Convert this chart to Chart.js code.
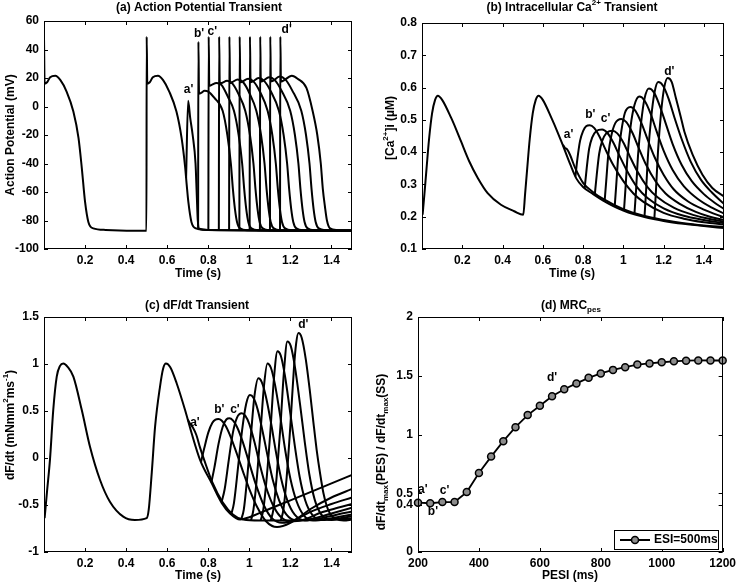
<!DOCTYPE html>
<html><head><meta charset="utf-8">
<script src="https://cdn.jsdelivr.net/npm/chart.js@4.4.0/dist/chart.umd.min.js"></script>
<style>html,body{margin:0;padding:0;background:#fff;width:740px;height:584px;overflow:hidden}canvas{position:absolute;left:0;top:0}</style>
</head><body>
<canvas id="cA" width="740" height="584"></canvas>
<canvas id="cB" width="740" height="584"></canvas>
<canvas id="cC" width="740" height="584"></canvas>
<canvas id="cD" width="740" height="584"></canvas>
<script>
// ---------- tick labels ----------
const timeTicks = [0.2, 0.4, 0.6, 0.8, 1, 1.2, 1.4];
const apTicks = [-100, -80, -60, -40, -20, 0, 20, 40, 60];
const caTicks = [0.1, 0.2, 0.3, 0.4, 0.5, 0.6, 0.7, 0.8];
const dfTicks = [-1, -0.5, 0, 0.5, 1, 1.5];
const pesiTicks = [200, 400, 600, 800, 1000, 1200];
const mrcTicks = [0, 0.4, 0.5, 1, 1.5, 2];

// ---------- (a) action potential, [time s, mV] ----------
const apSS = [[0,49],[0.003,16],[0.015,17],[0.03,20.5],[0.055,21.5],[0.08,18.5],[0.11,10.5],[0.143,-3.5],[0.168,-22],[0.184,-43],[0.2,-67],[0.216,-81],[0.24,-85.5],[0.3,-86.6],[0.499,-87.2],[0.5,49],[0.503,16],[0.515,17],[0.53,20.5],[0.555,21.5],[0.58,18.5],[0.61,10.5],[0.645,-3.5],[0.67,-22],[0.687,-42],[0.695,-55],[0.703,-67],[0.718,-81],[0.74,-85.5],[0.8,-86.6],[1.5,-87.2]];
const apA = [[0.692,-50],[0.702,4],[0.712,-8],[0.724,-20],[0.738,-40],[0.744,-62],[0.749,-80],[0.756,-85.8],[0.8,-86.7],[1.5,-87.2]];
const apB = [[0.7505,-86],[0.752,45.5],[0.755,9],[0.765,9.5],[0.782,11],[0.8,10.5],[0.83,6],[0.87,-3],[0.893,-20],[0.91,-40],[0.92,-58],[0.93,-72],[0.94,-81],[0.955,-85.5],[0.99,-86.8],[1.5,-87.2]];
const apC = [[0.8005,-86.6],[0.802,49],[0.805,14.5],[0.815,15],[0.84,16.5],[0.865,15],[0.895,7],[0.925,-3],[0.948,-20],[0.965,-40],[0.975,-58],[0.985,-72],[0.995,-81],[1.01,-85.5],[1.045,-86.8],[1.5,-87.2]];
const ap3 = [[0.8515,-86.8],[0.853,49],[0.856,16],[0.866,16.5],[0.892,18],[0.918,16],[0.948,8.5],[0.98,-3],[1.003,-20],[1.02,-40],[1.03,-58],[1.04,-72],[1.05,-81],[1.065,-85.5],[1.1,-86.8],[1.5,-87.2]];
const ap4 = [[0.9015,-86.8],[0.903,49],[0.906,16.5],[0.916,17],[0.943,19],[0.97,17],[1.0,9.5],[1.034,-3],[1.057,-20],[1.074,-40],[1.084,-58],[1.094,-72],[1.104,-81],[1.119,-85.5],[1.154,-86.8],[1.5,-87.2]];
const ap5 = [[0.9515,-86.8],[0.953,49],[0.956,17],[0.966,17.5],[0.994,19.5],[1.021,17.5],[1.053,10],[1.089,-3],[1.112,-20],[1.129,-40],[1.139,-58],[1.149,-72],[1.159,-81],[1.174,-85.5],[1.209,-86.8],[1.5,-87.2]];
const ap6 = [[1.0015,-86.8],[1.003,49],[1.006,17],[1.016,17.5],[1.045,20],[1.072,18],[1.105,10.5],[1.144,-3],[1.167,-20],[1.184,-40],[1.194,-58],[1.204,-72],[1.214,-81],[1.229,-85.5],[1.264,-86.8],[1.5,-87.2]];
const ap7 = [[1.0515,-86.8],[1.053,49],[1.056,17.5],[1.066,18],[1.096,20.5],[1.124,18.5],[1.157,11],[1.199,-3],[1.222,-20],[1.239,-40],[1.249,-58],[1.259,-72],[1.269,-81],[1.284,-85.5],[1.319,-86.8],[1.5,-87.2]];
const ap8 = [[1.1005,-86.8],[1.102,49],[1.105,17.5],[1.115,18],[1.147,21],[1.175,19],[1.208,11.5],[1.253,-3],[1.276,-20],[1.293,-40],[1.303,-58],[1.313,-72],[1.323,-81],[1.338,-85.5],[1.373,-86.8],[1.5,-87.2]];
const apD = [[1.1495,-86.8],[1.151,49],[1.154,17.5],[1.164,18],[1.207,21.5],[1.235,19.5],[1.278,13],[1.308,-3],[1.331,-20],[1.348,-40],[1.358,-58],[1.368,-70],[1.378,-80],[1.393,-85.5],[1.428,-86.8],[1.5,-87.2]];

// ---------- (b) intracellular Ca, [time s, uM] ----------
const caSS = [[0.003,0.206],[0.012,0.27],[0.022,0.345],[0.035,0.44],[0.05,0.52],[0.065,0.562],[0.079,0.575],[0.1,0.562],[0.145,0.506],[0.17,0.47],[0.194,0.433],[0.235,0.371],[0.277,0.32],[0.326,0.273],[0.392,0.237],[0.458,0.217],[0.503,0.206],[0.512,0.27],[0.522,0.345],[0.535,0.44],[0.55,0.52],[0.565,0.562],[0.579,0.575],[0.6,0.562],[0.645,0.503],[0.67,0.467],[0.694,0.43],[0.737,0.361],[0.767,0.318],[0.8,0.292],[0.85,0.27],[0.9,0.25],[0.95,0.233],[1.0,0.219],[1.05,0.208],[1.1,0.2],[1.15,0.193],[1.2,0.187],[1.3,0.178],[1.4,0.171],[1.5,0.165]];
const caA = [[0.7,0.423],[0.71,0.413],[0.72,0.409],[0.735,0.392],[0.76,0.352],[0.8,0.305],[0.85,0.276],[0.9,0.255],[1.0,0.223],[1.1,0.203],[1.2,0.19],[1.3,0.18],[1.4,0.173],[1.5,0.168]];
const caB = [[0.762,0.325],[0.772,0.38],[0.785,0.435],[0.8,0.465],[0.815,0.48],[0.833,0.483],[0.855,0.475],[0.88,0.45],[0.91,0.41],[0.95,0.36],[1.0,0.31],[1.05,0.272],[1.1,0.246],[1.2,0.212],[1.3,0.194],[1.4,0.183],[1.5,0.176]];
const caC = [[0.808,0.289],[0.818,0.35],[0.83,0.41],[0.845,0.445],[0.865,0.465],[0.895,0.47],[0.92,0.46],[0.95,0.43],[0.98,0.39],[1.02,0.34],[1.07,0.29],[1.12,0.258],[1.2,0.226],[1.3,0.203],[1.4,0.19],[1.5,0.18]];
const ca3 = [[0.858,0.267],[0.868,0.33],[0.88,0.395],[0.895,0.435],[0.915,0.458],[0.945,0.466],[0.97,0.458],[1.0,0.43],[1.03,0.39],[1.07,0.34],[1.12,0.292],[1.17,0.26],[1.25,0.228],[1.35,0.205],[1.43,0.193],[1.5,0.185]];
const ca4 = [[0.907,0.248],[0.915,0.31],[0.925,0.39],[0.94,0.45],[0.96,0.49],[0.99,0.503],[1.015,0.493],[1.045,0.46],[1.075,0.415],[1.11,0.365],[1.16,0.31],[1.21,0.272],[1.28,0.24],[1.36,0.215],[1.43,0.2],[1.5,0.19]];
const ca5 = [[0.957,0.231],[0.965,0.3],[0.975,0.39],[0.99,0.465],[1.008,0.522],[1.035,0.54],[1.06,0.528],[1.09,0.49],[1.12,0.44],[1.155,0.385],[1.2,0.33],[1.25,0.285],[1.32,0.248],[1.4,0.222],[1.5,0.198]];
const ca6 = [[1.003,0.218],[1.011,0.29],[1.021,0.39],[1.036,0.48],[1.055,0.545],[1.08,0.572],[1.105,0.56],[1.135,0.52],[1.165,0.465],[1.2,0.405],[1.245,0.345],[1.3,0.295],[1.37,0.255],[1.44,0.228],[1.5,0.21]];
const ca7 = [[1.055,0.207],[1.063,0.28],[1.073,0.39],[1.088,0.49],[1.105,0.565],[1.127,0.597],[1.152,0.585],[1.18,0.545],[1.21,0.49],[1.245,0.425],[1.29,0.36],[1.34,0.31],[1.4,0.27],[1.45,0.245],[1.5,0.224]];
const ca8 = [[1.105,0.199],[1.113,0.28],[1.123,0.395],[1.138,0.505],[1.155,0.585],[1.173,0.617],[1.198,0.605],[1.225,0.565],[1.255,0.505],[1.29,0.44],[1.335,0.37],[1.385,0.315],[1.44,0.275],[1.5,0.24]];
const caD = [[1.154,0.193],[1.162,0.28],[1.172,0.4],[1.187,0.52],[1.203,0.6],[1.22,0.63],[1.24,0.618],[1.262,0.565],[1.285,0.51],[1.303,0.464],[1.344,0.392],[1.393,0.33],[1.442,0.289],[1.5,0.263]];

// ---------- (c) dF/dt, [time s, mN mm-2 ms-1] ----------
const dfSS = [[0.003,-0.64],[0.015,-0.35],[0.029,-0.02],[0.045,0.51],[0.062,0.865],[0.078,0.98],[0.094,1.005],[0.115,0.97],[0.143,0.865],[0.184,0.51],[0.224,0.12],[0.273,-0.234],[0.321,-0.465],[0.386,-0.624],[0.443,-0.66],[0.5,-0.64],[0.51,-0.55],[0.525,-0.15],[0.541,0.333],[0.565,0.76],[0.58,0.95],[0.594,1.005],[0.615,0.965],[0.646,0.795],[0.687,0.51],[0.719,0.263],[0.76,-0.02],[0.817,-0.27],[0.866,-0.48],[0.906,-0.59],[0.955,-0.655],[1.0,-0.63],[1.1,-0.54],[1.2,-0.45],[1.3,-0.36],[1.4,-0.27],[1.5,-0.18]];
const dfA = [[0.7,0.41],[0.712,0.365],[0.725,0.325],[0.742,0.245],[0.76,0.11],[0.78,-0.02],[0.82,-0.26],[0.87,-0.47],[0.92,-0.6],[0.97,-0.655],[1.05,-0.665],[1.2,-0.665],[1.35,-0.655],[1.5,-0.645]];
const dfB = [[0.765,-0.04],[0.78,0.1],[0.8,0.27],[0.82,0.375],[0.835,0.408],[0.849,0.415],[0.865,0.4],[0.885,0.34],[0.91,0.22],[0.94,0.04],[0.97,-0.15],[1.0,-0.33],[1.04,-0.53],[1.08,-0.67],[1.135,-0.735],[1.2,-0.69],[1.3,-0.54],[1.4,-0.42],[1.5,-0.33]];
const dfC = [[0.815,-0.26],[0.83,-0.1],[0.85,0.15],[0.87,0.33],[0.888,0.41],[0.903,0.422],[0.92,0.4],[0.94,0.33],[0.965,0.19],[0.995,-0.02],[1.03,-0.27],[1.07,-0.5],[1.11,-0.64],[1.16,-0.69],[1.22,-0.66],[1.3,-0.57],[1.4,-0.49],[1.5,-0.42]];
const df3 = [[0.865,-0.47],[0.88,-0.33],[0.9,-0.02],[0.92,0.27],[0.94,0.43],[0.963,0.475],[0.98,0.45],[1.0,0.36],[1.025,0.17],[1.05,-0.06],[1.08,-0.3],[1.115,-0.5],[1.15,-0.62],[1.2,-0.675],[1.26,-0.66],[1.35,-0.58],[1.43,-0.53],[1.5,-0.49]];
const df4 = [[0.912,-0.6],[0.925,-0.48],[0.945,-0.1],[0.965,0.3],[0.985,0.58],[1.003,0.67],[1.02,0.64],[1.04,0.52],[1.065,0.28],[1.09,0.01],[1.115,-0.24],[1.145,-0.45],[1.18,-0.6],[1.23,-0.665],[1.3,-0.65],[1.4,-0.59],[1.5,-0.53]];
const df5 = [[0.96,-0.655],[0.973,-0.55],[0.99,-0.2],[1.008,0.25],[1.025,0.66],[1.044,0.848],[1.06,0.81],[1.08,0.66],[1.105,0.38],[1.13,0.06],[1.155,-0.22],[1.185,-0.45],[1.22,-0.6],[1.27,-0.665],[1.35,-0.64],[1.43,-0.6],[1.5,-0.57]];
const df6 = [[1.008,-0.665],[1.02,-0.55],[1.037,-0.2],[1.055,0.3],[1.072,0.78],[1.088,1.005],[1.105,0.96],[1.125,0.78],[1.15,0.45],[1.175,0.08],[1.2,-0.22],[1.23,-0.46],[1.265,-0.61],[1.31,-0.665],[1.4,-0.64],[1.5,-0.6]];
const df7 = [[1.055,-0.665],[1.068,-0.55],[1.085,-0.2],[1.103,0.3],[1.12,0.85],[1.137,1.135],[1.153,1.09],[1.173,0.88],[1.198,0.5],[1.222,0.12],[1.245,-0.2],[1.272,-0.45],[1.305,-0.6],[1.35,-0.66],[1.43,-0.645],[1.5,-0.62]];
const df8 = [[1.104,-0.665],[1.117,-0.55],[1.133,-0.2],[1.151,0.32],[1.168,0.9],[1.185,1.24],[1.202,1.19],[1.222,0.97],[1.247,0.57],[1.27,0.17],[1.292,-0.17],[1.318,-0.44],[1.35,-0.6],[1.4,-0.66],[1.46,-0.65],[1.5,-0.64]];
const dfD = [[1.153,-0.665],[1.166,-0.55],[1.182,-0.2],[1.2,0.35],[1.217,0.95],[1.228,1.22],[1.239,1.33],[1.255,1.28],[1.275,1.05],[1.296,0.69],[1.312,0.38],[1.328,0.085],[1.345,-0.17],[1.361,-0.375],[1.377,-0.51],[1.393,-0.59],[1.42,-0.645],[1.46,-0.665],[1.5,-0.655]];

// ---------- (d) MRC ----------
const pesi = [200,240,280,320,360,400,440,480,520,560,600,640,680,720,760,800,840,880,920,960,1000,1040,1080,1120,1160,1200];
const mrc = [0.42,0.415,0.425,0.425,0.51,0.672,0.812,0.943,1.062,1.165,1.245,1.325,1.385,1.435,1.482,1.52,1.55,1.573,1.595,1.605,1.615,1.623,1.628,1.63,1.63,1.63];

// ---------- point labels [text, x, y] in data units ----------
const labA = [["a'",0.704,12],["b'",0.755,51.4],["c'",0.82,52.5],["d'",1.182,53.7]];
const labB = [["a'",0.728,0.454],["b'",0.836,0.516],["c'",0.912,0.504],["d'",1.228,0.65]];
const labC = [["a'",0.735,0.376],["b'",0.854,0.51],["c'",0.93,0.51],["d'",1.263,1.415]];
const labD = [["a'",216,0.528],["b'",249,0.345],["c'",287,0.523],["d'",640,1.48]];

const FONT = "'Liberation Sans', Arial, Helvetica, sans-serif";
const F12 = "bold 12px " + FONT, F8 = "bold 8px " + FONT;

function pts(a){ return a.map(p => ({x:p[0], y:p[1]})); }
function lineDs(a){ return {data:pts(a), showLine:true, borderColor:'#000', borderWidth:2, pointRadius:0, cubicInterpolationMode:'monotone', fill:false}; }

function drawRich(ctx, segs, cx, cy, rot){
  let w = 0;
  segs.forEach(s => { ctx.font = s[1] ? F8 : F12; w += ctx.measureText(s[0]).width; });
  ctx.save(); ctx.translate(cx, cy); if (rot) ctx.rotate(-Math.PI/2);
  ctx.textBaseline = 'middle'; ctx.textAlign = 'left'; ctx.fillStyle = '#000';
  let x = -w/2;
  segs.forEach(s => { ctx.font = s[1] ? F8 : F12; const dy = s[1] === 1 ? -5 : (s[1] === -1 ? 4 : 0); ctx.fillText(s[0], x, dy); x += ctx.measureText(s[0]).width; });
  ctx.restore();
}

const deco = {
  id: 'deco',
  afterDatasetsDraw(chart, args, o){
    const ctx = chart.ctx, a = chart.chartArea, xs = chart.scales.x, ys = chart.scales.y, TL = 4;
    ctx.save();
    ctx.strokeStyle = '#000'; ctx.lineWidth = 1;
    ctx.strokeRect(Math.round(a.left)+0.5, Math.round(a.top)+0.5, Math.round(a.right-a.left)-1, Math.round(a.bottom-a.top)-1);
    ctx.beginPath();
    xs.ticks.forEach(t => { const p = Math.round(xs.getPixelForValue(t.value))+0.5; ctx.moveTo(p, a.bottom); ctx.lineTo(p, a.bottom-TL); ctx.moveTo(p, a.top); ctx.lineTo(p, a.top+TL); });
    ys.ticks.forEach(t => { const p = Math.round(ys.getPixelForValue(t.value))+0.5; ctx.moveTo(a.left, p); ctx.lineTo(a.left+TL, p); ctx.moveTo(a.right, p); ctx.lineTo(a.right-TL, p); });
    ctx.stroke();
    ctx.font = F12; ctx.fillStyle = '#000'; ctx.textAlign = 'center'; ctx.textBaseline = 'middle';
    o.labels.forEach(l => ctx.fillText(l[0], xs.getPixelForValue(l[1]), ys.getPixelForValue(l[2])));
    drawRich(ctx, o.title[0], o.title[1], o.title[2], false);
    drawRich(ctx, o.xtitle[0], o.xtitle[1], o.xtitle[2], false);
    drawRich(ctx, o.ytitle[0], o.ytitle[1], o.ytitle[2], true);
    if (o.legend) {
      const L = o.legend;
      ctx.fillStyle = '#fff'; ctx.fillRect(L.x, L.y, L.w, L.h);
      ctx.strokeStyle = '#000'; ctx.lineWidth = 1; ctx.strokeRect(L.x+0.5, L.y+0.5, L.w, L.h);
      const cy = L.y + L.h/2 + 0.5;
      ctx.lineWidth = 2; ctx.beginPath(); ctx.moveTo(L.x+6, cy); ctx.lineTo(L.x+36, cy); ctx.stroke();
      ctx.beginPath(); ctx.arc(L.x+21, cy, 3.5, 0, Math.PI*2); ctx.fillStyle = '#8c8c8c'; ctx.fill(); ctx.lineWidth = 1.5; ctx.stroke();
      ctx.fillStyle = '#000'; ctx.font = F12; ctx.textAlign = 'left'; ctx.fillText(L.text, L.x+40, cy);
    }
    ctx.restore();
  }
};

function panel(id, r, xr, yr, xt, yt, datasets, deco_opts){
  const YW = 40, XH = 20;
  const tickFont = {family: FONT, size: 12, weight: 'bold'};
  return new Chart(document.getElementById(id), {
    type: 'scatter',
    data: {datasets},
    options: {
      responsive: false, animation: false, events: [],
      layout: {padding: {left: r.l - YW, top: r.t, right: 740 - r.r, bottom: 584 - r.b - XH}},
      plugins: {legend: {display: false}, tooltip: {enabled: false}, deco: deco_opts},
      scales: {
        x: {type: 'linear', min: xr[0], max: xr[1], grid: {display: false, drawTicks: false}, border: {display: false},
            afterBuildTicks: s => { s.ticks = xt.map(v => ({value: v})); },
            afterFit: s => { s.height = XH; },
            ticks: {autoSkip: false, maxRotation: 0, padding: 4, color: '#000', font: tickFont, callback: v => String(v)}},
        y: {type: 'linear', min: yr[0], max: yr[1], grid: {display: false, drawTicks: false}, border: {display: false},
            afterBuildTicks: s => { s.ticks = yt.map(v => ({value: v})); },
            afterFit: s => { s.width = YW; },
            ticks: {autoSkip: false, padding: 5, color: '#000', font: tickFont, callback: v => String(v)}}
      }
    },
    plugins: [deco]
  });
}

panel('cA', {l:44, r:352, t:21, b:249}, [0, 1.5], [-100, 60], timeTicks, apTicks,
  [apSS, apA, apB, apC, ap3, ap4, ap5, ap6, ap7, ap8, apD].map(lineDs),
  {labels: labA, title: [[["(a) Action Potential Transient",0]], 199, 8],
   xtitle: [[["Time (s)",0]], 198, 274], ytitle: [[["Action Potential (mV)",0]], 11, 135]});

panel('cB', {l:422, r:724, t:23, b:249}, [0, 1.5], [0.1, 0.8], timeTicks, caTicks,
  [caSS, caA, caB, caC, ca3, ca4, ca5, ca6, ca7, ca8, caD].map(lineDs),
  {labels: labB, title: [[["(b) Intracellular Ca",0],["2+",1],[" Transient",0]], 572, 8],
   xtitle: [[["Time (s)",0]], 572, 274], ytitle: [[["[Ca",0],["2+",1],["]i (\u00b5M)",0]], 391, 128]});

panel('cC', {l:44, r:352, t:317, b:552}, [0, 1.5], [-1, 1.5], timeTicks, dfTicks,
  [dfSS, dfA, dfB, dfC, df3, df4, df5, df6, df7, df8, dfD].map(lineDs),
  {labels: labC, title: [[["(c) dF/dt Transient",0]], 197, 306],
   xtitle: [[["Time (s)",0]], 198, 576], ytitle: [[["dF/dt (mNmm",0],["2",1],["ms",0],["-1",1],[")",0]], 11, 425]});

panel('cD', {l:418, r:723, t:317, b:552}, [200, 1200], [0, 2], pesiTicks, mrcTicks,
  [{data: pesi.map((p, i) => ({x: p, y: mrc[i]})), showLine: true, borderColor: '#000', borderWidth: 1.8,
    pointRadius: 3.5, pointBorderWidth: 1.5, pointBorderColor: '#000', pointBackgroundColor: '#8c8c8c', clip: false, fill: false}],
  {labels: labD, title: [[["(d) MRC",0],["pes",-1]], 571, 306],
   xtitle: [[["PESI (ms)",0]], 570, 576],
   ytitle: [[["dF/dt",0],["max",-1],["(PES) / dF/dt",0],["max",-1],["(SS)",0]], 382, 452],
   legend: {x: 614, y: 530, w: 104, h: 19, text: "ESI=500ms"}});
</script>
</body></html>
